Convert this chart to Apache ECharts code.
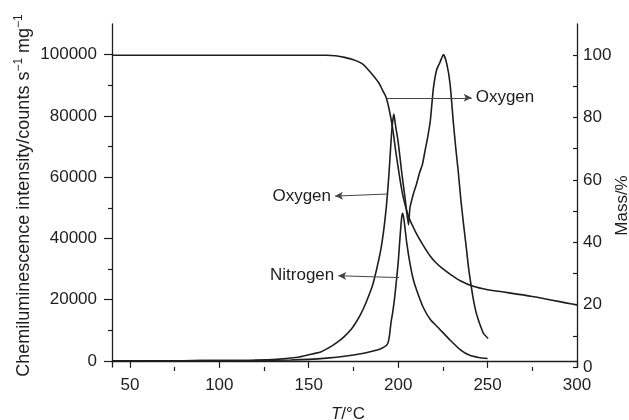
<!DOCTYPE html>
<html lang="en">
<head>
    <meta charset="UTF-8">
    <title>Chemiluminescence and mass vs temperature</title>
    <script src="https://cdn.jsdelivr.net/npm/echarts@6/dist/echarts.min.js"></script>
    <style>
        html, body { margin: 0; padding: 0; background: #ffffff; }
        #chart { width: 629px; height: 420px; }
    </style>
</head>
<body>
    <div id="chart"></div>
    <script>
        // oxygen chemiluminescence, counts s-1 mg-1
        var tOxygen = [40, 60, 80, 100, 116, 130, 144, 150, 157, 163, 167, 170, 174, 176, 179, 182, 185.6, 188, 190.3, 192, 193.5, 194.8, 196, 196.8, 197.6, 198.5, 200, 202, 203.9, 205.8, 206.6, 208.5, 210.4, 212, 213.5, 215, 216.5, 218, 219.7, 221.5, 223.4, 225.3, 227.2, 229, 230.9, 232.3, 233.7, 235, 236.5, 238, 239.3, 240.7, 242.1, 243.5, 244.9, 246.3, 247.7, 250.3];
        var cpsOxygen = [0, 0, 50, 80, 100, 400, 1200, 2000, 3000, 4900, 6500, 8000, 10500, 12200, 15200, 19000, 24500, 30000, 36300, 43000, 51000, 60500, 71500, 77500, 80600, 77000, 71500, 61500, 53000, 44400, 50000, 54500, 58000, 61500, 64000, 68500, 73000, 78500, 89000, 95000, 97500, 100000, 97000, 90600, 77600, 69000, 61200, 53000, 44900, 37500, 30700, 25000, 19900, 16000, 13300, 11000, 9000, 7300];
        // nitrogen chemiluminescence
        var tNitrogen = [40, 80, 100, 120, 140, 150, 160, 170, 180, 186, 190, 192, 193.5, 194.5, 195.2, 196, 197, 198, 199, 200, 201, 202, 202.6, 203.5, 204.8, 206.7, 208.5, 210.4, 214, 218, 223, 229, 235, 240, 245, 250];
        var cpsNitrogen = [0, 50, 100, 150, 300, 500, 900, 1500, 2400, 3200, 3900, 4500, 5100, 6200, 8500, 12500, 16000, 20500, 26000, 32000, 40000, 47000, 48200, 45000, 38500, 31500, 26500, 23000, 17500, 13500, 10500, 6800, 3500, 1800, 1100, 800];
        // mass in oxygen, %
        var tMass = [40, 160, 165, 170, 175, 180, 183, 186, 189.3, 191.5, 193.3, 195, 196.8, 198.7, 200, 201.5, 203, 206, 210, 213.5, 218, 221, 224.7, 229, 235, 242, 250, 257, 275, 300];
        var massPct = [100, 100, 99.8, 99.3, 98.5, 97.2, 95.5, 93.5, 91, 88.5, 86.4, 82.5, 77, 69, 64, 58.5, 54, 48, 43, 39.5, 35.5, 33.5, 31.6, 29.8, 27.6, 25.9, 24.8, 24.2, 22.6, 19.9];

        // ticks
        var xLabels = [50, 100, 150, 200, 250, 300];
        var xMinor = [75, 125, 175, 225, 275];
        var cpsLabels = [0, 20000, 40000, 60000, 80000, 100000];
        var cpsMinor = [10000, 30000, 50000, 70000, 90000];
        var massLabels = [0, 20, 40, 60, 80, 100];
        var massTicks = [0, 10, 20, 30, 40, 50, 60, 70, 80, 90, 100];

        // arrow labels [T, counts]
        var notes = [
            { text: 'Oxygen', from: [193.8, 85900], to: [241.1, 85900] },
            { text: 'Oxygen', from: [194.5, 54500], to: [164.7, 53800] },
            { text: 'Nitrogen', from: [200.5, 27200], to: [166.5, 27800] }
        ];

        function zip(xs, ys) {
            return xs.map(function (x, i) { return [x, ys[i]]; });
        }
        function plain(v) { return String(v); }

        var ink = '#1e1e1e';
        var font = 'Liberation Sans, Arial, sans-serif';

        var chart = echarts.init(document.getElementById('chart'));

        var arrowData = notes.map(function (n) {
            return [{
                coord: n.from,
                label: { show: true, position: 'end', distance: 4, formatter: n.text }
            }, {
                coord: n.to
            }];
        });

        chart.setOption({
            animation: false,
            textStyle: { fontFamily: font, color: ink },
            grid: { left: 112, right: 52, top: 24, bottom: 53, containLabel: false, outerBoundsMode: 'none' },
            xAxis: [{
                type: 'value',
                min: 40,
                max: 300,
                name: '{i|T}/°C',
                nameLocation: 'middle',
                nameGap: 39,
                nameMoveOverlap: false,
                nameTextStyle: {
                    fontSize: 17, color: ink, padding: [0, 0, 0, 7],
                    rich: { i: { fontSize: 17, fontStyle: 'italic', color: ink } }
                },
                axisLine: { show: true, lineStyle: { color: ink, width: 1.3 } },
                axisTick: { show: true, customValues: xLabels, length: 7, lineStyle: { color: ink, width: 1.2 } },
                axisLabel: { customValues: xLabels, fontSize: 17, color: ink, margin: 10, formatter: plain },
                splitLine: { show: false }
            }, {
                type: 'value',
                min: 40,
                max: 300,
                position: 'bottom',
                axisLine: { show: false },
                axisTick: { show: true, customValues: xMinor, length: 4, lineStyle: { color: ink, width: 1.2 } },
                axisLabel: { show: false },
                splitLine: { show: false }
            }],
            yAxis: [{
                type: 'value',
                min: -2000,
                max: 110000,
                position: 'left',
                name: 'Chemiluminescence intensity/counts s{sup|−1} mg{sup|−1}',
                nameLocation: 'middle',
                nameRotate: 90,
                nameGap: 77,
                nameMoveOverlap: false,
                nameTextStyle: {
                    fontSize: 18, color: ink,
                    rich: { sup: { fontSize: 12, color: ink, padding: [0, 0, 10, 0] } }
                },
                axisLine: { show: true, lineStyle: { color: ink, width: 1.3 } },
                axisTick: { show: true, customValues: cpsLabels, length: 8, lineStyle: { color: ink, width: 1.2 } },
                axisLabel: { customValues: cpsLabels, fontSize: 17, color: ink, margin: 15, formatter: plain },
                splitLine: { show: false }
            }, {
                type: 'value',
                min: 0,
                max: 110,
                position: 'right',
                name: 'Mass/%',
                nameLocation: 'middle',
                nameRotate: 90,
                nameGap: 37,
                nameMoveOverlap: false,
                nameTextStyle: { fontSize: 17, color: ink, padding: [0, 20, 0, 0] },
                axisLine: { show: true, lineStyle: { color: ink, width: 1.3 } },
                axisTick: { show: true, inside: true, customValues: massTicks, length: 4, lineStyle: { color: ink, width: 1.2 } },
                axisLabel: { customValues: massLabels, fontSize: 17, color: ink, margin: 6, formatter: plain },
                splitLine: { show: false }
            }, {
                type: 'value',
                min: -2000,
                max: 110000,
                position: 'left',
                axisLine: { show: false },
                axisTick: { show: true, customValues: cpsMinor, length: 4, lineStyle: { color: ink, width: 1.2 } },
                axisLabel: { show: false },
                splitLine: { show: false }
            }],
            series: [{
                name: 'Oxygen',
                type: 'line',
                data: zip(tOxygen, cpsOxygen),
                yAxisIndex: 0,
                symbol: 'none',
                smooth: 0.2,
                lineStyle: { color: ink, width: 1.6 },
                markLine: {
                    silent: true,
                    symbol: ['none', 'arrow'],
                    symbolSize: [6, 8],
                    lineStyle: { color: '#444', width: 1, type: 'solid' },
                    label: { color: ink, fontSize: 17, fontFamily: font },
                    data: arrowData
                }
            }, {
                name: 'Nitrogen',
                type: 'line',
                data: zip(tNitrogen, cpsNitrogen),
                yAxisIndex: 0,
                symbol: 'none',
                smooth: 0.2,
                lineStyle: { color: ink, width: 1.6 }
            }, {
                name: 'Mass',
                type: 'line',
                data: zip(tMass, massPct),
                yAxisIndex: 1,
                symbol: 'none',
                smooth: 0.3,
                lineStyle: { color: ink, width: 1.6 }
            }]
        });
    </script>
</body>
</html>
